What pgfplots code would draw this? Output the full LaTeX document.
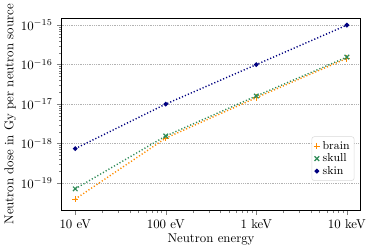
\documentclass[border=0pt]{standalone}
\usepackage{pgfplots}
\pgfplotsset{compat=1.18}
\definecolor{cbrain}{RGB}{255,140,0}
\definecolor{cskull}{RGB}{46,139,87}
\definecolor{cskin}{RGB}{0,0,128}
\begin{document}
\begin{tikzpicture}
\begin{axis}[
  width=233pt, height=150pt, scale only axis,
  xmode=log, ymode=log,
  xmin=7.08, xmax=14125,
  ymin=2e-20, ymax=1.5e-15,
  xtick={10,100,1000,10000},
  xticklabels={10 eV,100 eV,1 keV,10 keV},
  ytick={1e-19,1e-18,1e-17,1e-16,1e-15},
  ymajorgrids, major grid style={gray!60, densely dotted, line width=0.3pt},
  tick align=outside, tick pos=left,
  major tick length=3.5pt, minor tick length=2pt,
  xlabel={Neutron energy}, ylabel={Neutron dose in Gy per neutron source},
  xlabel style={yshift=3pt}, ylabel style={yshift=-3pt},
  legend style={at={(0.98,0.27)}, anchor=east, draw=gray!30, rounded corners=2pt, font=\small, inner sep=1.5pt, row sep=-2pt},
  legend cell align=left,
  legend image code/.code={\draw[#1] plot coordinates {(0.15cm,0cm)};},
]
\addplot[cbrain, line width=1.1pt, dash pattern=on 0.9pt off 1.6pt, mark=+, mark size=2.5pt, mark options={solid, line width=0.9pt}] coordinates {
 (10,3.9e-20) (100,1.37e-18) (1000,1.45e-17) (10000,1.44e-16)};
\addlegendentry{brain}
\addplot[cskull, line width=1.1pt, dash pattern=on 0.9pt off 1.6pt, mark=x, mark size=2.5pt, mark options={solid, line width=0.9pt}] coordinates {
 (10,7.1e-20) (100,1.55e-18) (1000,1.6e-17) (10000,1.55e-16)};
\addlegendentry{skull}
\addplot[cskin, line width=1.1pt, dash pattern=on 0.9pt off 1.6pt, mark=*, mark size=1.2pt, mark options={solid}] coordinates {
 (10,7.4e-19) (100,1.0e-17) (1000,1.0e-16) (10000,1.0e-15)};
\addlegendentry{skin}
\end{axis}
\end{tikzpicture}
\end{document}
